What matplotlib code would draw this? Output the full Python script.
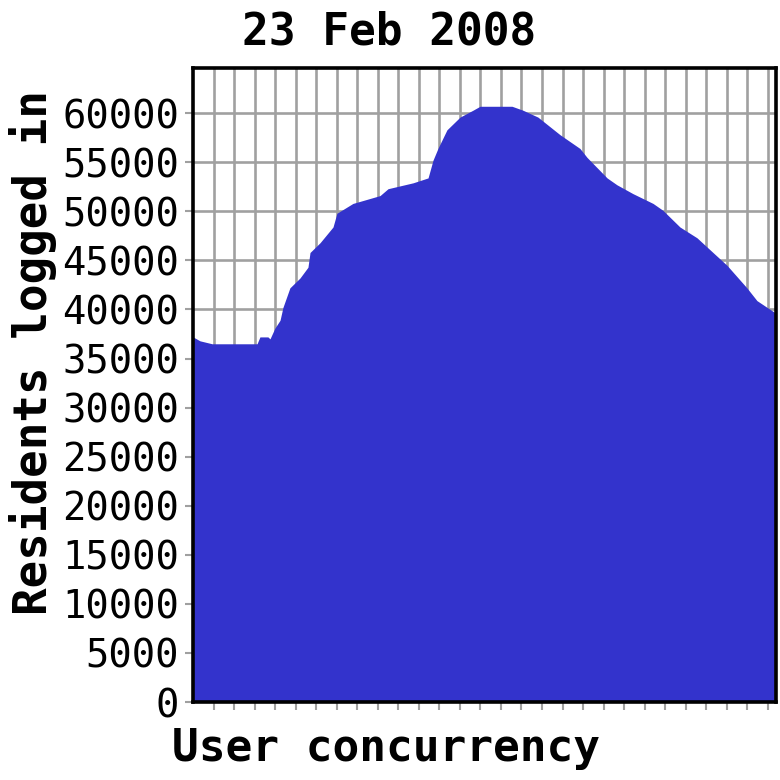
import numpy as np
import matplotlib
matplotlib.use('Agg')
import matplotlib.pyplot as plt

# 5-minute samples across the day
sample = [0, 3.4, 9.3, 31.2, 32.6, 36.5, 37.5, 39.9, 42.4, 43.8, 47.2, 52.1, 56.0, 57.0,
          61.9, 68.2, 70.1, 77.9, 91.1, 95.0, 107.2, 114.5, 116.9, 119.3, 123.7, 130.1,
          136.4, 139.8, 155.4, 160.7, 168.0, 178.8, 188.5, 191.9, 201.7, 206.5, 214.3,
          224.1, 228.9, 237.2, 245.5, 253.3, 260.1, 269.8, 274.7, 284.0]
residents = [37200, 36800, 36500, 36500, 37200, 37200, 37000, 38100, 38900, 40200, 42200,
             43200, 44300, 45800, 46800, 48400, 49800, 50800, 51600, 52300, 52900, 53400,
             55200, 56400, 58300, 59600, 60300, 60700, 60700, 60300, 59600, 57800, 56400,
             55500, 53400, 52700, 51800, 50800, 50100, 48400, 47300, 45800, 44500, 42200,
             40900, 39600]
yticks = [0, 5000, 10000, 15000, 20000, 25000, 30000, 35000, 40000, 45000, 50000, 55000, 60000]
xgrid = list(range(10, 290, 10))

fig = plt.figure(figsize=(7.8, 7.8), dpi=100)
fig.patch.set_facecolor('white')
ax = fig.add_axes([193/780, 1 - 702/780, 583/780, (702 - 68)/780])

ax.fill_between(sample, 0, residents, color='#3333cc', zorder=3, linewidth=0)
ax.set_xlim(0, 284)
ax.set_ylim(0, 64600)

ax.set_yticks(yticks)
ax.set_xticks(xgrid)
ax.set_xticklabels([])
ax.grid(True, color='#a0a0a0', linewidth=1.9, zorder=1)
ax.set_axisbelow(True)

mono = 'DejaVu Sans Mono'
ax.set_yticklabels([str(v) for v in yticks], fontsize=28, family=mono)
ax.tick_params(axis='y', length=6, width=1.5, color='#a0a0a0', pad=4)
ax.tick_params(axis='x', length=6, width=1.5, color='#a0a0a0', pad=2)

for s in ax.spines.values():
    s.set_linewidth(2.6)
    s.set_color('black')
    s.set_zorder(5)

fig.text(389/780, 1 - 32/780, '23 Feb 2008', fontsize=32, fontweight='bold', family=mono,
         ha='center', va='center')
fig.text(172/780, 1 - 748/780, 'User concurrency', fontsize=32, fontweight='bold', family=mono,
         ha='left', va='center')
fig.text(33/780, 1 - 353/780, 'Residents logged in', fontsize=33, fontweight='bold', family=mono,
         ha='center', va='center', rotation=90)

fig.savefig('out.png', dpi=100, facecolor='white')
